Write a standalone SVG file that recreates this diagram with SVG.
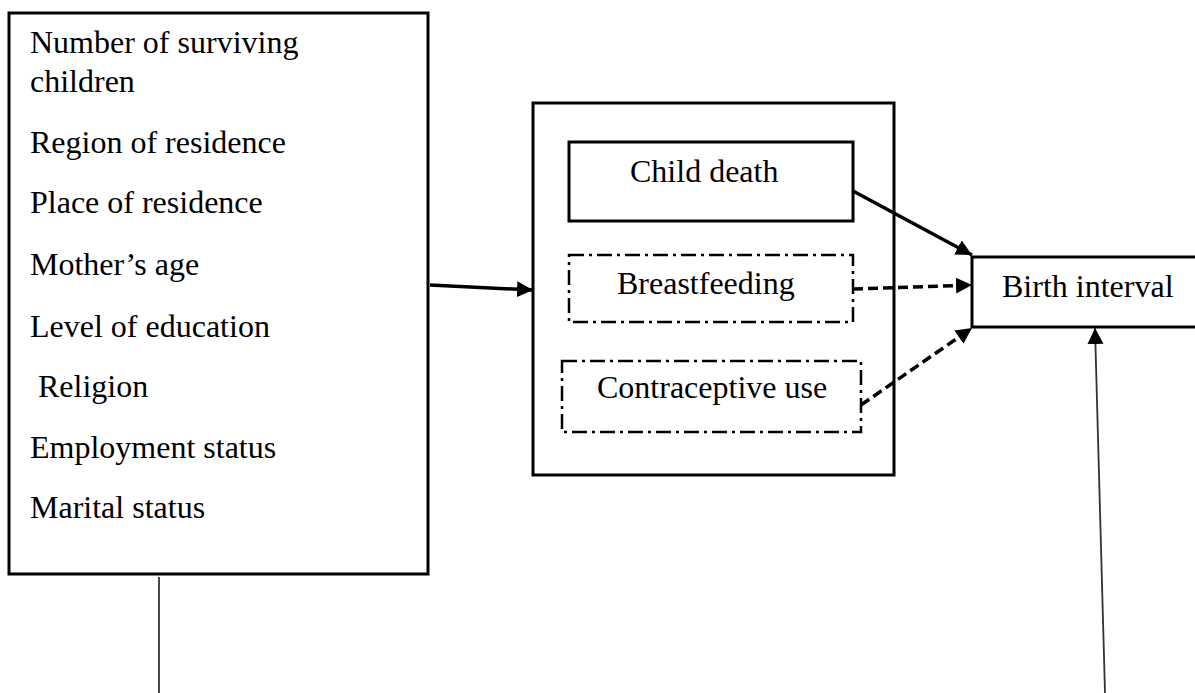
<svg xmlns="http://www.w3.org/2000/svg" width="1195" height="693" viewBox="0 0 1195 693">
<style>
text{font-family:"Liberation Serif","Times New Roman",serif;font-size:32px;fill:#000}
.box{fill:#fff;stroke:#000;stroke-width:3}
.dd{fill:#fff;stroke:#000;stroke-width:2.5;stroke-dasharray:15 5 3 5}
.thick{stroke:#000;stroke-width:3.5;fill:none}
.dash{stroke:#000;stroke-width:3.5;fill:none;stroke-dasharray:10 5}
.thin{stroke:#333;stroke-width:1.8;fill:none}
</style>
<defs>
<marker id="ah" markerUnits="userSpaceOnUse" markerWidth="17" markerHeight="17" refX="16" refY="8" orient="auto">
<path d="M0,0 L16,8 L0,16 z" fill="#000"/>
</marker>
</defs>
<rect width="1195" height="693" fill="#fff"/>
<g id="determinants">
<rect class="box" x="9" y="13" width="419" height="561"/>
<text x="30" y="53">Number of surviving</text>
<text x="30" y="92">children</text>
<text x="30" y="153">Region of residence</text>
<text x="30" y="213">Place of residence</text>
<text x="30" y="275">Mother’s age</text>
<text x="30" y="337">Level of education</text>
<text x="38" y="397">Religion</text>
<text x="30" y="458">Employment status</text>
<text x="30" y="518">Marital status</text>
</g>
<g id="proximate">
<rect class="box" x="533" y="103" width="361" height="372"/>
</g>
<g id="child-death">
<rect class="box" x="569" y="142" width="284" height="79"/>
<text x="630" y="182">Child death</text>
</g>
<g id="breastfeeding">
<rect class="dd" x="569" y="255" width="284" height="67"/>
<text x="617" y="294">Breastfeeding</text>
</g>
<g id="contraceptive">
<rect class="dd" x="562" y="361" width="299" height="71"/>
<text x="597" y="398">Contraceptive use</text>
</g>
<g id="birth-interval">
<rect class="box" x="972" y="257" width="240" height="70"/>
<text x="1002" y="297">Birth interval</text>
</g>
<g id="connectors">
<line class="thick" x1="430" y1="285" x2="533" y2="290" marker-end="url(#ah)"/>
<line class="thick" x1="853" y1="191" x2="972" y2="255" marker-end="url(#ah)"/>
<line class="dash" x1="853" y1="289" x2="972" y2="285" marker-end="url(#ah)"/>
<line class="dash" x1="861" y1="405" x2="972" y2="328" marker-end="url(#ah)"/>
<line class="thin" x1="1105" y1="693" x2="1095" y2="328" marker-end="url(#ah)"/>
<line class="thin" x1="159" y1="577" x2="159" y2="693"/>
</g>
</svg>
